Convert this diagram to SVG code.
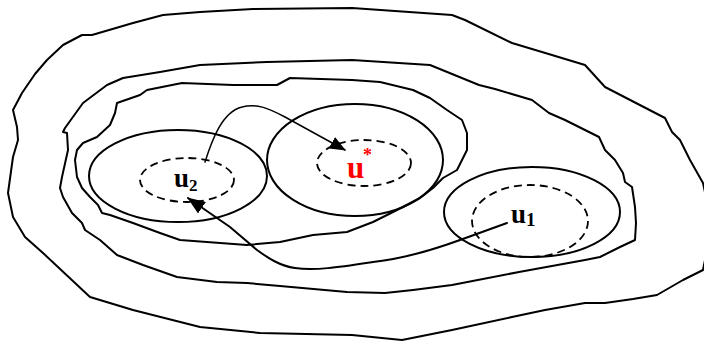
<svg xmlns="http://www.w3.org/2000/svg" width="704" height="341" viewBox="0 0 704 341">
<style>
.contour{fill:none;stroke:#000;stroke-width:2;stroke-linejoin:round}
.ell{fill:none;stroke:#000;stroke-width:2}
.dash{fill:none;stroke:#000;stroke-width:1.8;stroke-dasharray:8 5}
.conn{fill:none;stroke:#000;stroke-linecap:round}
.lbl{font-family:"Liberation Serif","Times New Roman",serif;font-weight:bold;fill:#000}
.red{fill:#ff0000}
</style>
<defs>
<marker id="ah" viewBox="0 0 16 13" refX="15" refY="6.5" markerWidth="16" markerHeight="13" markerUnits="userSpaceOnUse" orient="auto">
<path d="M0,0 L16,6.5 L0,13 Z" fill="#000"/>
</marker>
<marker id="ah2" viewBox="0 0 18 14" refX="17" refY="7" markerWidth="18" markerHeight="14" markerUnits="userSpaceOnUse" orient="auto">
<path d="M0,0 L18,7 L0,14 Z" fill="#000"/>
</marker>
</defs>
<g id="contours">
<path id="contour-outer" class="contour" d="M13,110 L17,127 L18,140 L13,157 L8,193 L13,217 L25,237 L43,253 L90,297 L133,310 L200,327 L260,333 L352,335 L402,340 L452,330 L512,317 L545,310 L585,303 L605,303 L633,299 L657,295 L683,280 L703,270 L712,225 L703,183 L690,160 L680,140 L672,132 L665,118 L605,87 L585,65 L542,52 L512,43 L465,20 L452,15 L352,8 L253,9 L200,12 L163,15 L133,23 L92,35 L82,35 L63,45 L47,60 L35,74 L22,93 Z"/>
<path id="contour-mid" class="contour" d="M352,60 L430,65 L479,85 L495,89 L532,100 L549,113 L565,120 L599,137 L605,150 L615,160 L623,173 L625,182 L632,187 L635,207 L636,223 L635,240 L620,247 L600,257 L585,260 L519,272 L452,285 L413,290 L385,293 L347,292 L280,286 L247,283 L217,282 L177,277 L143,265 L117,255 L100,240 L85,230 L82,223 L72,213 L63,197 L60,188 L62,177 L68,150 L67,133 L63,132 L65,128 L83,103 L107,85 L123,78 L160,72 L200,65 L267,62 Z"/>
<path id="contour-inner" class="contour" d="M182,83 L233,85 L277,85 L290,78 L352,80 L380,82 L413,90 L430,98 L447,110 L462,120 L467,133 L467,150 L457,170 L443,178 L433,188 L420,198 L397,210 L373,222 L347,232 L313,235 L280,242 L247,245 L180,240 L160,233 L133,223 L110,215 L102,213 L98,205 L90,197 L82,188 L77,177 L75,160 L77,150 L83,143 L97,137 L110,125 L115,113 L117,103 L140,95 L147,90 Z"/>
</g>
<g id="node-u2">
<ellipse class="ell" cx="178" cy="176" rx="89" ry="46"/>
<ellipse class="dash" cx="187" cy="180" rx="47" ry="22"/>
<text class="lbl" x="174" y="187" font-size="27">u<tspan font-size="17" dy="4">2</tspan></text>
</g>
<g id="node-ustar">
<ellipse class="ell" cx="355" cy="160" rx="88" ry="56"/>
<ellipse class="dash" cx="364" cy="163" rx="47" ry="23"/>
<text class="lbl red" x="347" y="178" font-size="31">u</text>
<text class="lbl red" x="363" y="161" font-size="18">*</text>
</g>
<g id="node-u1">
<ellipse class="ell" cx="532" cy="212" rx="88" ry="45"/>
<ellipse class="dash" cx="530" cy="221" rx="58" ry="36"/>
<text class="lbl" x="511" y="223" font-size="27">u<tspan font-size="19" dy="3">1</tspan></text>
</g>
<g id="connectors">
<path class="conn" stroke-width="1.5" marker-end="url(#ah)" d="M205,162 C212,140 222,112 242,107 C256,103 268,108 285,117 L345,150"/>
<path class="conn" stroke-width="2" marker-end="url(#ah2)" d="M507,223 L460,240 C430,251 400,259 373,262 C340,267 315,271 295,268 C280,266 268,258 257,250 L230,227 L188,198"/>
</g>
</svg>
